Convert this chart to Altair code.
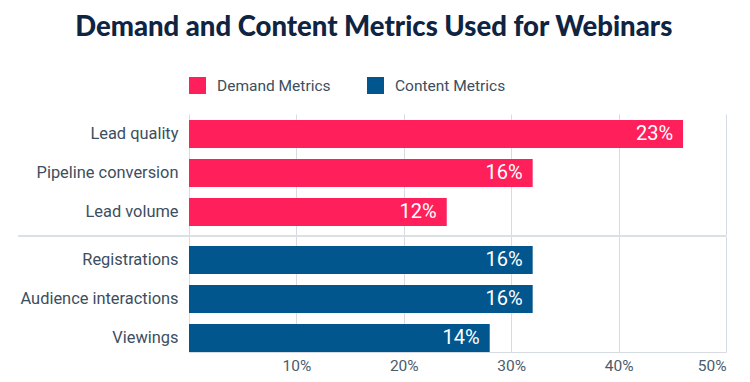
import altair as alt
import pandas as pd

groups = ["Demand Metrics", "Content Metrics"]
demand_metrics = ["Lead quality", "Pipeline conversion", "Lead volume"]
demand_bar = [46, 32, 24]          # bar length as read on the axis
demand_text = ["23%", "16%", "12%"]
content_metrics = ["Registrations", "Audience interactions", "Viewings"]
content_bar = [32, 32, 28]
content_text = ["16%", "16%", "14%"]
x_ticks = [0, 10, 20, 30, 40, 50]
colors = ["#FF1F5A", "#02568E"]

GRID = "#d6dce2"
LABEL = "#3c4e60"
FONT = "Roboto"
W = 537

df_d = pd.DataFrame({"metric": demand_metrics, "bar": demand_bar,
                     "text": demand_text, "group": groups[0]})
df_c = pd.DataFrame({"metric": content_metrics, "bar": content_bar,
                     "text": content_text, "group": groups[1]})

color = alt.Color(
    "group:N",
    scale=alt.Scale(domain=groups, range=colors),
    legend=alt.Legend(
        title=None, orient="none", legendX=0, legendY=-37,
        direction="horizontal", symbolType="square", symbolSize=289,
        symbolStrokeWidth=0, symbolOpacity=1, labelFontSize=15.5,
        labelColor=LABEL, labelFont=FONT, labelOffset=11,
        columnPadding=36,
    ),
)


def panel(df, bottom, height, pad_outer, align):
    x_axis = alt.Axis(
        values=x_ticks, title=None,
        labelExpr="datum.value == 0 ? '' : datum.value + '%'",
        labels=bottom, domain=bottom, ticks=False, grid=True,
        gridColor=GRID, domainColor=GRID, labelFontSize=15.5,
        labelColor="#4a5b6c", labelFont=FONT, labelPadding=6,
        **({} if bottom else {"minExtent": 0, "maxExtent": 0}),
    )
    x = alt.X("bar:Q", scale=alt.Scale(domain=[0, 50]), axis=x_axis)
    y = alt.Y(
        "metric:N", sort=list(df.metric),
        scale=alt.Scale(paddingInner=0.28, paddingOuter=pad_outer, align=align),
        axis=alt.Axis(title=None, ticks=False, domain=False,
                      labelFontSize=16.4, labelColor=LABEL, labelFont=FONT,
                      labelPadding=11, minExtent=176, maxExtent=176),
    )
    bars = alt.Chart(df).mark_bar().encode(x=x, y=y, color=color)
    text = alt.Chart(df).mark_text(
        align="right", dx=-10, color="white", fontSize=20, font=FONT
    ).encode(x="bar:Q", y=alt.Y("metric:N", sort=list(df.metric)), text="text:N")
    layers = [bars, text]
    if bottom:
        sep = alt.Chart(df).mark_rule(color=GRID, strokeWidth=1).encode(
            x=alt.value(-171), x2=alt.value(W), y=alt.value(0)
        )
        layers.append(sep)
    return alt.layer(*layers).properties(width=W, height=height)


top = panel(df_d, False, 121, 0.19, 0.4)
bot = panel(df_c, True, 116, 0.127, 1)

chart = alt.vconcat(top, bot, spacing=0).properties(
    title=alt.Title(
        "Demand and Content Metrics Used for Webinars",
        fontSize=27.5, font="Lato", fontWeight=900, color="#0f2442",
        anchor="middle", offset=36, dx=4,
    )
).configure_view(stroke=None)

chart.save("out.html", embed_options={"renderer": "svg", "actions": False})
